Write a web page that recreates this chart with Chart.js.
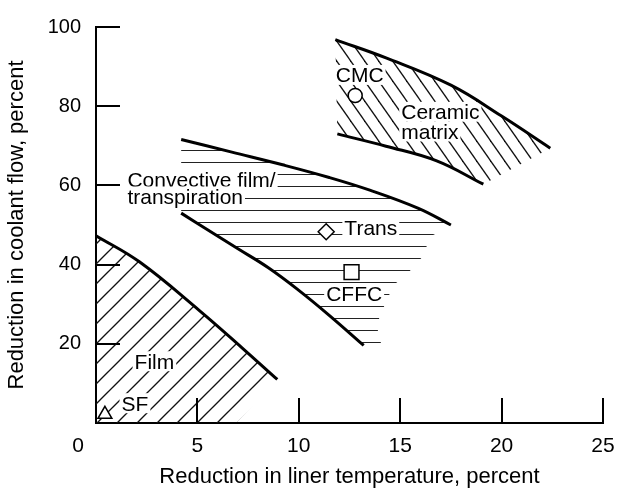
<!DOCTYPE html>
<html><head><meta charset="utf-8">
<script src="https://cdn.jsdelivr.net/npm/chart.js@4/dist/chart.umd.min.js"></script>
<style>html,body{margin:0;padding:0;background:#fff;}#wrap{width:626px;height:493px;position:relative;}</style>
</head><body><div id="wrap"><canvas id="c"></canvas></div>
<script>
// ---- tick labels & titles ----
const xTicks = [0, 5, 10, 15, 20, 25];
const yTicks = [20, 40, 60, 80, 100];
const xTitle = 'Reduction in liner temperature, percent';
const yTitle = 'Reduction in coolant flow, percent';

// ---- Film zone (diagonal "/" hatching) ----
const filmCurveX = [0, 2.14, 5.1, 7.2, 8.94];
const filmCurveY = [47.3, 40.7, 28.4, 19.0, 11.0];
const filmBaseX = [6.9, 0];
const filmBaseY = [0, 0];

// ---- Convective film / transpiration zone (horizontal hatching) ----
const convUpperX = [4.2, 6.7, 9.2, 11.5, 13.5, 15.9, 17.5];
const convUpperY = [71.6, 68.4, 65.2, 62, 58.8, 54.2, 50];
const convEdgeX = [17.3, 16.3, 16.3, 15.8, 15.3, 14.6, 14.4, 14.1, 13.9, 13.9, 14.1];
const convEdgeY = [49.3, 46.6, 43.0, 40.4, 37.3, 34.6, 31.4, 28.4, 25.5, 22.8, 19.4];
const convLowerX = [4.2, 5.5, 7.0, 8.5, 10, 11.5, 13.2];
const convLowerY = [53, 48.8, 44, 39.2, 33.5, 27.2, 19.6];

// ---- Ceramic matrix zone ("\" hatching) ----
const cerUpperX = [11.8, 14.3, 17.5, 20, 22.4];
const cerUpperY = [96.8, 92.2, 85.3, 77.5, 69.4];
const cerLowerX = [11.9, 14.3, 16.8, 19.1];
const cerLowerY = [73, 69.9, 66.2, 60.3];

// ---- point markers ----
const markerNames = ['CMC', 'Trans', 'CFFC', 'SF'];
const markerX = [12.78, 11.35, 12.6, 0.44];
const markerY = [82.7, 48.3, 38.1, 2.2];
const markerStyle = ['circle', 'rectRot', 'rect', 'triangle'];

// ---- text notes ----
const noteTexts = ['CMC', 'Ceramic', 'matrix', 'Convective film/', 'transpiration', 'Trans', 'CFFC', 'Film', 'SF'];
const noteX = [13.0, 15.05, 15.05, 1.55, 1.55, 13.55, 12.73, 2.88, 1.92];
const noteY = [87.9, 78.6, 73.6, 61.6, 57.2, 49.3, 32.6, 15.6, 5.0];
const noteAlign = ['center', 'left', 'left', 'left', 'left', 'center', 'center', 'center', 'center'];

const FONT = '"Liberation Sans", Arial, Helvetica, sans-serif';
const pts = (xs, ys) => xs.map((v, i) => ({x: v, y: ys[i]}));

const canvas = document.getElementById('c');
const mainCtx = canvas.getContext('2d');
function makePattern(kind) {
  const c = document.createElement('canvas');
  let W, H;
  if (kind === 'h') { W = 8; H = 12; } else if (kind === 'f') { W = 20; H = 20; } else { W = 14; H = 20; }
  c.width = W; c.height = H;
  const g = c.getContext('2d');
  if (kind === 'h') {
    g.fillStyle = '#222';
    g.fillRect(0, 6, W, 1);
  } else {
    g.strokeStyle = '#111';
    g.lineWidth = 1.3;
    for (let k = -2; k <= 2; k++) {
      g.beginPath();
      if (kind === 'f') { g.moveTo(k * W - W, 2 * H); g.lineTo(k * W + 2 * W, -H); }
      else { g.moveTo(k * W - W, -H); g.lineTo(k * W + 2 * W, 2 * H); }
      g.stroke();
    }
  }
  return mainCtx.createPattern(c, 'repeat');
}

const zoneBase = {type: 'line', borderColor: 'rgba(0,0,0,0)', borderWidth: 0, pointRadius: 0, tension: 0, fill: 'shape', order: 3};
const curveBase = {type: 'line', borderColor: '#000', borderWidth: 3, pointRadius: 0, fill: false, tension: 0.4, order: 2, borderCapStyle: 'butt'};

const datasets = [
  Object.assign({label: 'Film zone', data: pts(filmCurveX.concat(filmBaseX), filmCurveY.concat(filmBaseY)), backgroundColor: makePattern('f')}, zoneBase),
  Object.assign({label: 'Convective zone', data: pts(convUpperX.concat(convEdgeX, convLowerX.slice().reverse()), convUpperY.concat(convEdgeY, convLowerY.slice().reverse())), backgroundColor: makePattern('h')}, zoneBase),
  Object.assign({label: 'Ceramic zone', data: pts(cerLowerX.concat(cerUpperX.slice().reverse()), cerLowerY.concat(cerUpperY.slice().reverse())), backgroundColor: makePattern('c')}, zoneBase),
  Object.assign({label: 'Film limit', data: pts(filmCurveX, filmCurveY)}, curveBase),
  Object.assign({label: 'Convective upper', data: pts(convUpperX, convUpperY)}, curveBase),
  Object.assign({label: 'Convective lower', data: pts(convLowerX, convLowerY)}, curveBase),
  Object.assign({label: 'Ceramic upper', data: pts(cerUpperX, cerUpperY)}, curveBase),
  Object.assign({label: 'Ceramic lower', data: pts(cerLowerX, cerLowerY)}, curveBase)
];
markerNames.forEach((n, i) => {
  datasets.push({type: 'line', label: n, data: [{x: markerX[i], y: markerY[i]}], showLine: false,
    pointStyle: markerStyle[i], pointRadius: [7, 8, 10.5, 8][i], pointBorderWidth: 1.5,
    pointBorderColor: '#000', pointBackgroundColor: '#fff', order: 1, clip: false});
});

const decor = {
  id: 'decor',
  beforeDatasetsDraw(chart) {
    const {ctx, scales: {x, y}} = chart;
    ctx.save();
    ctx.font = '21px ' + FONT;
    noteTexts.forEach((t, i) => {
      const px = x.getPixelForValue(noteX[i]), py = y.getPixelForValue(noteY[i]);
      const w = ctx.measureText(t).width;
      const left = noteAlign[i] === 'left' ? px : px - w / 2;
      ctx.fillStyle = '#fff';
      ctx.fillRect(left - 2, py - 10, w + 4, 20);
      ctx.fillStyle = '#000';
      ctx.textAlign = 'left';
      ctx.textBaseline = 'alphabetic';
      ctx.fillText(t, left, py + 7.5);
    });
    ctx.restore();
  },
  afterDraw(chart) {
    const {ctx, scales: {x, y}, chartArea: a} = chart;
    ctx.save();
    ctx.strokeStyle = '#000';
    ctx.lineWidth = 2;
    x.ticks.forEach(tk => {
      if (tk.value === xTicks[0]) return;
      const px = Math.round(x.getPixelForValue(tk.value));
      ctx.beginPath(); ctx.moveTo(px, a.bottom); ctx.lineTo(px, a.bottom - 25); ctx.stroke();
    });
    y.ticks.forEach(tk => {
      const py = Math.round(y.getPixelForValue(tk.value));
      ctx.beginPath(); ctx.moveTo(a.left, py); ctx.lineTo(a.left + 24, py); ctx.stroke();
    });
    ctx.font = '21px ' + FONT;
    ctx.fillStyle = '#000';
    ctx.textAlign = 'center';
    ctx.textBaseline = 'middle';
    ctx.fillText(String(xTicks[0]), x.getPixelForValue(xTicks[0]) - 18, a.bottom + 23);
    ctx.restore();
  }
};

Chart.defaults.font.family = FONT;
Chart.defaults.font.size = 20;
Chart.defaults.color = '#000';

new Chart(canvas, {
  type: 'line',
  data: {datasets},
  options: {
    responsive: true,
    maintainAspectRatio: false,
    animation: false,
    events: [],
    layout: {padding: {top: 15, right: 23, left: 0, bottom: 0}},
    plugins: {legend: {display: false}, tooltip: {enabled: false}, filler: {drawTime: 'beforeDatasetsDraw'}},
    scales: {
      x: {
        type: 'linear', min: 0, max: 25,
        afterBuildTicks: s => { s.ticks = xTicks.map(v => ({value: v})); },
        afterFit: s => { s.height = 70; },
        grid: {display: false, drawTicks: false},
        border: {display: true, color: '#000', width: 2},
        ticks: {padding: 11, font: {size: 21}, callback: v => (v === xTicks[0] ? '' : String(v))},
        title: {display: true, text: xTitle, font: {size: 22}, padding: {top: 0, bottom: 3}}
      },
      y: {
        type: 'linear', min: 0, max: 100,
        afterBuildTicks: s => { s.ticks = yTicks.map(v => ({value: v})); },
        afterFit: s => { s.width = 96; },
        grid: {display: false, drawTicks: false},
        border: {display: true, color: '#000', width: 2},
        ticks: {padding: 15, font: {size: 20}},
        title: {display: true, text: yTitle, font: {size: 22}, padding: {top: 4, bottom: 0}}
      }
    }
  },
  plugins: [decor]
});
</script>
</body></html>
